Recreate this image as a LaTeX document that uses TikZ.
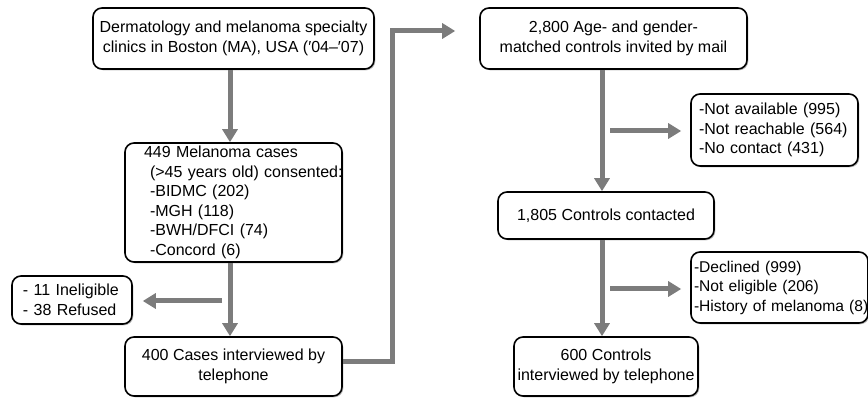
\documentclass[tikz,border=0pt]{standalone}
\usepackage{fontspec}
\setmainfont{Liberation Sans}
\usetikzlibrary{arrows.meta,shadows,calc}
\definecolor{arrgray}{RGB}{124,124,124}
\begin{document}
\begin{tikzpicture}[x=1pt,y=-1pt,
  box/.style={draw=black, line width=1.6pt, rounded corners=9pt, fill=white,
    general shadow={fill=black!25, shadow xshift=1.3pt, shadow yshift=-1.3pt},
    font=\fontsize{16}{19.5}\selectfont, inner sep=0pt, align=center},
  lbox/.style={box, align=left, inner xsep=0pt},
  arr/.style={draw=arrgray, line width=5pt, -{Triangle[width=15pt,length=13pt]}}
]
\useasboundingbox (0,0) rectangle (868,398);

% left column
\node[box, minimum width=281, minimum height=61] (b1) at (233.5,38.5)
  {Dermatology and melanoma specialty\\clinics in Boston (MA), USA (′04–′07)};
\node[lbox, minimum width=217, minimum height=119, text width=179] (b2) at (233.5,202.5)
  {\mbox{449 Melanoma cases}\\
   \mbox{\hspace*{6pt}(>45 years old) consented:}\\
   \mbox{\hspace*{6pt}-BIDMC (202)}\\
   \mbox{\hspace*{6pt}-MGH (118)}\\
   \mbox{\hspace*{6pt}-BWH/DFCI (74)}\\
   \mbox{\hspace*{6pt}-Concord (6)}};
\node[lbox, minimum width=120, minimum height=48, text width=98] (inel) at (72,300)
  {\mbox{- 11 Ineligible}\\\mbox{- 38 Refused}};
\node[box, minimum width=217, minimum height=59] (b3) at (233.5,366.5)
  {400 Cases interviewed by\\telephone};

% right column
\node[box, minimum width=267, minimum height=61] (b4) at (613.5,38.5)
  {2,800 Age- and gender-\\matched controls invited by mail};
\node[lbox, minimum width=167, minimum height=72, text width=151] (na) at (774.5,130)
  {\mbox{-Not available (995)}\\\mbox{-Not reachable (564)}\\\mbox{-No contact (431)}};
\node[box, minimum width=216, minimum height=47] (b5) at (606,215.5)
  {1,805 Controls contacted};
\node[lbox, minimum width=177, minimum height=71, text width=171,
  font=\fontsize{15.6}{19.5}\selectfont] (decl) at (779.5,287.5)
  {\mbox{-Declined (999)}\\\mbox{-Not eligible (206)}\\\mbox{-History of melanoma (8)}};
\node[box, minimum width=184, minimum height=59] (b6) at (606,366.5)
  {600 Controls\\interviewed by telephone};

% column axes
\coordinate (c1) at (230,0);
\coordinate (c2) at (602,0);

% vertical flow arrows
\draw[arr] (b1.south -| c1) -- (b2.north -| c1);
\draw[arr] (b2.south -| c1) -- (b3.north -| c1);
\draw[arr] (b4.south -| c2) -- (b5.north -| c2);
\draw[arr] (b5.south -| c2) -- (b6.north -| c2);

% side arrows
\coordinate (s1) at (222,301);
\draw[arr, shorten >=10pt] (s1) -- (inel.east |- s1);
\coordinate (s2) at (610,131);
\draw[arr, shorten >=9pt] (s2) -- (na.west |- s2);
\coordinate (s3) at (610,289);
\draw[arr, shorten >=9pt] (s3) -- (decl.west |- s3);

% elbow connector from cases to controls
\coordinate (elb) at (392,31);
\draw[arr, shorten >=24pt] ([yshift=5.5pt]b3.east) -| (elb) -- (elb -| b4.west);
\end{tikzpicture}
\end{document}
